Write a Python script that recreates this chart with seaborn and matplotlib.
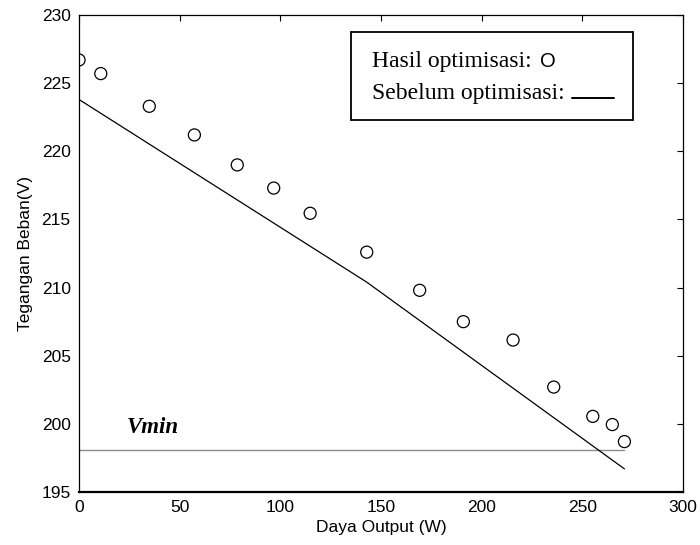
import numpy as np
import pandas as pd
import matplotlib
matplotlib.use("Agg")
import matplotlib.pyplot as plt
from matplotlib.patches import Rectangle
import seaborn as sns

# values
daya_opt = [0, 10.8, 34.9, 57.3, 78.6, 96.7, 114.8, 142.9, 169.2, 190.9,
            215.6, 235.8, 255.2, 264.9, 270.9]
tegangan_opt = [226.7, 225.7, 223.3, 221.2, 219.0, 217.3, 215.45, 212.6, 209.8,
                207.5, 206.15, 202.7, 200.55, 199.95, 198.7]

daya_before = [0, 142.9, 270.9]
tegangan_before = [223.8, 210.4, 196.7]

vmin = 198.1
vmin_x = [0, 270.9]

xticks = [0, 50, 100, 150, 200, 250, 300]
yticks = [195, 200, 205, 210, 215, 220, 225, 230]

opt_df = pd.DataFrame({"daya": daya_opt, "tegangan": tegangan_opt})
before_df = pd.DataFrame({"daya": daya_before, "tegangan": tegangan_before})

sns.set_theme(style="white")
plt.rcParams["font.family"] = ["Liberation Sans", "DejaVu Sans"]

fig = plt.figure(figsize=(7, 5.45), dpi=100)
ax = fig.add_axes([0.1129, 0.0972, 0.8628, 0.8753])

# Vmin limit line
ax.plot(vmin_x, [vmin, vmin], color="0.55", lw=1.0, zorder=1)

sns.lineplot(data=before_df, x="daya", y="tegangan", color="black", lw=0.9,
             sort=False, ax=ax, zorder=2)
sns.scatterplot(data=opt_df, x="daya", y="tegangan", s=75, linewidth=0.9,
                edgecolor="black", ax=ax, zorder=3)
ax.collections[-1].set_facecolor("none")

ax.text(23.7, 199.35, "Vmin", family="Liberation Serif", style="italic",
        weight="bold", fontsize=16.5, color="black")

ax.set_xlim(0, 300)
ax.set_ylim(195, 230)
ax.set_xticks(xticks)
ax.set_yticks(yticks)
ax.tick_params(direction="in", length=4, width=0.8, top=True, right=True,
               labelsize=12.5, colors="black", pad=6)
ax.set_xlabel("Daya Output (W)", fontsize=12.5, color="black", labelpad=3)
ax.set_ylabel("Tegangan Beban(V)", fontsize=12.5, color="black", labelpad=6)

for side in ["left", "top", "right"]:
    ax.spines[side].set_color("black")
    ax.spines[side].set_linewidth(0.9)
ax.spines["bottom"].set_color("black")
ax.spines["bottom"].set_linewidth(1.6)

# hand-made legend box like the original figure
ax.add_patch(Rectangle((0.4503, 0.7799), 0.4664, 0.1851, transform=ax.transAxes,
                       facecolor="white", edgecolor="black", lw=1.3, zorder=4))
serif = {"family": "Liberation Serif", "size": 17, "color": "black"}
ax.text(0.4856, 0.8916, "Hasil optimisasi:", transform=ax.transAxes,
        va="baseline", zorder=5, **serif)
ax.text(0.7636, 0.8916, "O", transform=ax.transAxes, va="baseline",
        family="Liberation Sans", fontsize=14.5, color="black", zorder=5)
ax.text(0.4856, 0.8239, "Sebelum optimisasi:", transform=ax.transAxes,
        va="baseline", zorder=5, **serif)
ax.plot([0.8157, 0.8858], [0.8266, 0.8266], transform=ax.transAxes,
        color="black", lw=1.4, zorder=5)

if ax.get_legend() is not None:
    ax.get_legend().remove()

fig.savefig("out.png", dpi=100)
